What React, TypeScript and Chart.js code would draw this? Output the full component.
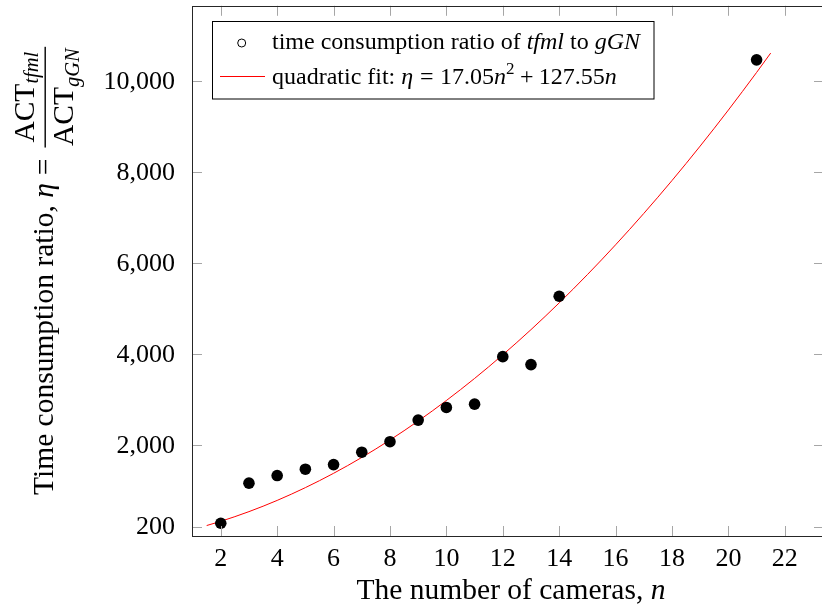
import React, { useEffect, useRef } from "react";
import { Chart, registerables } from "chart.js";

Chart.register(...registerables);

// ---- data ----
const cameraCounts = [2, 3, 4, 5, 6, 7, 8, 9, 10, 11, 12, 13, 14, 21];
const timeRatios = [280, 1163, 1330, 1470, 1571, 1843, 2075, 2550, 2828, 2901, 3946, 3771, 5274, 10475];

// quadratic fit curve
const fitN = [1.5, 2, 3, 4, 5, 6, 7, 8, 9, 10, 11, 12, 13, 14, 15, 16, 17, 18, 19, 20, 21, 21.5];
const fitEta = [230, 323, 536, 783, 1064, 1379, 1728, 2112, 2529, 2981, 3466, 3986, 4540, 5128, 5750, 6406, 7096, 7820, 8579, 9371, 10198, 10624];

const xTickValues = [2, 4, 6, 8, 10, 12, 14, 16, 18, 20, 22];
const yTickValues = [200, 2000, 4000, 6000, 8000, 10000];

const FONT = '"Liberation Serif", "Times New Roman", serif';

type Run = { t: string; f: string; gap?: number; dy?: number };

function runsWidth(ctx: CanvasRenderingContext2D, runs: Run[]) {
  let w = 0;
  for (const r of runs) {
    ctx.font = r.f;
    w += (r.gap || 0) + ctx.measureText(r.t).width;
  }
  return w;
}

function drawRuns(ctx: CanvasRenderingContext2D, runs: Run[], x: number, y: number) {
  for (const r of runs) {
    ctx.font = r.f;
    x += r.gap || 0;
    ctx.fillText(r.t, x, y + (r.dy || 0));
    x += ctx.measureText(r.t).width;
  }
  return x;
}

const decorPlugin = {
  id: "decor",
  afterDatasetsDraw(chart: any) {
    const ctx: CanvasRenderingContext2D = chart.ctx;
    const { left, right, top, bottom } = chart.chartArea;
    const xs = chart.scales.x;
    const ys = chart.scales.y;
    ctx.save();

    // inward ticks on all four sides
    ctx.strokeStyle = "#a6a6a6";
    ctx.lineWidth = 1;
    const tl = 10;
    ctx.beginPath();
    for (const v of xTickValues) {
      const px = Math.round(xs.getPixelForValue(v)) + 0.5;
      ctx.moveTo(px, bottom);
      ctx.lineTo(px, bottom - tl);
      ctx.moveTo(px, top);
      ctx.lineTo(px, top + tl);
    }
    for (const v of yTickValues) {
      const py = Math.round(ys.getPixelForValue(v)) + 0.5;
      ctx.moveTo(left, py);
      ctx.lineTo(left + tl, py);
      ctx.moveTo(right, py);
      ctx.lineTo(right - tl, py);
    }
    ctx.stroke();

    // frame
    ctx.strokeStyle = "#262626";
    ctx.lineWidth = 1;
    ctx.strokeRect(Math.round(left) + 0.5, Math.round(top) + 0.5, Math.round(right - left), Math.round(bottom - top));

    // tick labels
    ctx.fillStyle = "#000";
    ctx.font = `26px ${FONT}`;
    ctx.textAlign = "center";
    ctx.textBaseline = "alphabetic";
    for (const v of xTickValues) {
      ctx.fillText(String(v), xs.getPixelForValue(v), 566);
    }
    ctx.textAlign = "right";
    for (const v of yTickValues) {
      ctx.fillText(v.toLocaleString("en-US"), 175, ys.getPixelForValue(v) + 7.5);
    }

    // x title
    ctx.textAlign = "left";
    const xRuns: Run[] = [
      { t: "The number of cameras, ", f: `29.5px ${FONT}` },
      { t: "n", f: `italic 29.5px ${FONT}` },
    ];
    const xw = runsWidth(ctx, xRuns);
    drawRuns(ctx, xRuns, 511 - xw / 2, 599);

    // y title (rotated)
    const mainRuns: Run[] = [
      { t: "Time consumption ratio, ", f: `29.5px ${FONT}` },
      { t: "η", f: `italic 29.5px ${FONT}` },
      { t: "=", f: `29.5px ${FONT}`, gap: 8 },
    ];
    const numRuns: Run[] = [
      { t: "ACT", f: `29.5px ${FONT}` },
      { t: "tfml", f: `italic 20.5px ${FONT}`, dy: 4 },
    ];
    const denRuns: Run[] = [
      { t: "ACT", f: `29.5px ${FONT}` },
      { t: "gGN", f: `italic 20.5px ${FONT}`, dy: 6 },
    ];
    const mw = runsWidth(ctx, mainRuns);
    const nw = runsWidth(ctx, numRuns);
    const dw = runsWidth(ctx, denRuns);
    const bar = Math.max(nw, dw) + 3;
    const fracGap = 11;
    const total = mw + fracGap + bar;
    ctx.translate(53, (top + bottom) / 2);
    ctx.rotate(-Math.PI / 2);
    const sx = -total / 2;
    drawRuns(ctx, mainRuns, sx, 0);
    const fx = sx + mw + fracGap;
    ctx.fillRect(fx, -8.5, bar, 1.4);
    drawRuns(ctx, numRuns, fx + (bar - nw) / 2, -19.5);
    drawRuns(ctx, denRuns, fx + (bar - dw) / 2, 20);
    ctx.setTransform(1, 0, 0, 1, 0, 0);

    // legend
    ctx.fillStyle = "#fff";
    ctx.fillRect(212.5, 21.5, 441.5, 77.5);
    ctx.strokeStyle = "#000";
    ctx.lineWidth = 1;
    ctx.strokeRect(212.5, 21.5, 441.5, 77.5);
    ctx.beginPath();
    ctx.arc(241.7, 43, 4, 0, Math.PI * 2);
    ctx.stroke();
    ctx.strokeStyle = "#ff0000";
    ctx.beginPath();
    ctx.moveTo(220, 76.5);
    ctx.lineTo(265, 76.5);
    ctx.stroke();
    ctx.fillStyle = "#000";
    const lf = `24px ${FONT}`;
    const li = `italic 24px ${FONT}`;
    drawRuns(ctx, [
      { t: "time consumption ratio of ", f: lf },
      { t: "tfml", f: li },
      { t: " to ", f: lf },
      { t: "gGN", f: li },
    ], 272, 48.5);
    drawRuns(ctx, [
      { t: "quadratic fit: ", f: lf },
      { t: "η", f: li },
      { t: "=", f: lf, gap: 6.7 },
      { t: "17.05", f: lf, gap: 6.7 },
      { t: "n", f: li },
      { t: "2", f: `17px ${FONT}`, dy: -10 },
      { t: "+", f: lf, gap: 5.3 },
      { t: "127.55", f: lf, gap: 5.3 },
      { t: "n", f: li },
    ], 272, 84);

    ctx.restore();
  },
};

export default function App() {
  const ref = useRef<HTMLCanvasElement>(null);
  useEffect(() => {
    const canvas = ref.current!;
    const chart = new Chart(canvas, {
      type: "scatter",
      data: {
        datasets: [
          {
            label: "time consumption ratio of tfml to gGN",
            data: cameraCounts.map((n, i) => ({ x: n, y: timeRatios[i] })),
            backgroundColor: "#000",
            borderWidth: 0,
            pointRadius: 5.8,
            order: 0,
          },
          {
            label: "quadratic fit",
            data: fitN.map((n, i) => ({ x: n, y: fitEta[i] })),
            showLine: true,
            borderColor: "#ff0000",
            borderWidth: 1,
            pointRadius: 0,
            cubicInterpolationMode: "monotone",
            order: 1,
          } as any,
        ],
      },
      options: {
        animation: false,
        responsive: false,
        devicePixelRatio: 1,
        layout: { padding: { top: 4, right: 6, left: 0, bottom: 0 } },
        plugins: { legend: { display: false }, tooltip: { enabled: false } },
        events: [],
        scales: {
          x: {
            type: "linear",
            min: 0.98,
            max: 23.39,
            grid: { display: false, drawTicks: false },
            border: { display: false },
            ticks: { display: false },
            afterFit: (s: any) => {
              s.height = 77;
            },
          },
          y: {
            type: "linear",
            min: 0,
            max: 11664,
            grid: { display: false, drawTicks: false },
            border: { display: false },
            ticks: { display: false },
            afterFit: (s: any) => {
              s.width = 192;
            },
          },
        },
      },
      plugins: [decorPlugin],
    });
    return () => chart.destroy();
  }, []);
  return (
    <div style={{ position: "absolute", left: 0, top: 0, width: 822, height: 613, overflow: "hidden", background: "#fff" }}>
      <canvas ref={ref} width={830} height={613} style={{ display: "block", width: 830, height: 613 }} />
    </div>
  );
}
